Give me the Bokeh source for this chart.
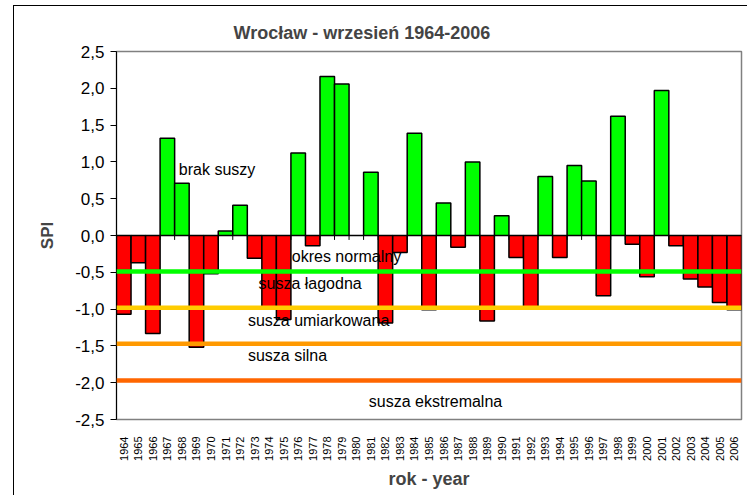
import math
from bokeh.plotting import figure
from bokeh.models import Range1d, FixedTicker, CustomJSTickFormatter, Span, Label, ColumnDataSource
from bokeh.embed import file_html
from bokeh.resources import INLINE

years = list(range(1964, 2007))
spi = [-1.07, -0.37, -1.33, 1.32, 0.71, -1.52, -0.52, 0.06, 0.41, -0.31,
       -0.97, -1.14, 1.12, -0.14, 2.16, 2.06, 0.00, 0.86, -1.19, -0.23,
       1.39, -1.01, 0.44, -0.16, 1.00, -1.16, 0.27, -0.30, -0.97, 0.80,
       -0.30, 0.95, 0.74, -0.82, 1.62, -0.12, -0.56, 1.97, -0.14, -0.59,
       -0.70, -0.91, -1.01]
thresholds = [-0.49, -0.98, -1.47, -1.97]
threshold_colors = ["#00FF00", "#FFCC00", "#FF9900", "#FF6600"]
class_labels = ["brak suszy", "okres normalny", "susza łagodna",
                "susza umiarkowana", "susza silna", "susza ekstremalna"]
y_ticks = [-2.5, -2.0, -1.5, -1.0, -0.5, 0.0, 0.5, 1.0, 1.5, 2.0, 2.5]

FONT = "Liberation Sans"

colors = ["#00FF00" if v > 0 else "#FF0000" for v in spi]
src = ColumnDataSource(dict(x=years, top=spi, color=colors))

p = figure(frame_width=625, frame_height=368, min_border_left=102, min_border_right=7,
           min_border_top=45, min_border_bottom=77,
           x_range=Range1d(years[0] - 0.5, years[-1] + 0.5), y_range=Range1d(-2.5, 2.5),
           output_backend="svg", toolbar_location=None,
           title="Wrocław - wrzesień 1964-2006")
p.margin = (6, 0, 0, 14)
p.styles = {"box-shadow": "-1px -1px 0 0 #000000"}

p.title.text_font = FONT
p.title.text_font_size = "18px"
p.title.text_font_style = "bold"
p.title.align = "left"
p.title.offset = 117
p.title.standoff = 17

p.xgrid.visible = False
p.ygrid.visible = False
p.outline_line_color = "#808080"
p.outline_line_width = 1.5
p.background_fill_color = "white"
p.border_fill_color = "white"

p.vbar(x="x", top="top", bottom=0, width=1.0, fill_color="color", line_color="black",
       line_width=1.5, source=src)

p.add_layout(Span(location=0, dimension="width", line_color="black", line_width=1.2))
bx = [y + 0.5 for y in years[:-1]]
p.segment(x0=bx, y0=[0] * len(bx), x1=bx, y1=[-0.06] * len(bx), line_color="black", line_width=1)

for t, c in zip(thresholds, threshold_colors):
    p.add_layout(Span(location=t, dimension="width", line_color=c, line_width=4.5))

label_pos = [(1967.79, 0.89), (1975.56, -0.28), (1973.27, -0.65),
             (1972.54, -1.16), (1972.54, -1.63), (1980.86, -2.25)]
for txt, (lx, ly) in zip(class_labels, label_pos):
    p.add_layout(Label(x=lx, y=ly, text=txt, text_font=FONT, text_font_size="16px",
                       text_color="black", text_baseline="middle", text_align="left"))

# axes
xa = p.xaxis[0]
xa.ticker = FixedTicker(ticks=years)
xa.major_label_orientation = math.pi / 2
xa.major_label_text_font = FONT
xa.major_label_text_font_size = "11px"
xa.major_label_text_color = "black"
xa.major_tick_line_color = None
xa.minor_tick_line_color = None
xa.axis_line_color = "#808080"
xa.major_label_standoff = 11
xa.axis_label = "rok - year"
xa.axis_label_text_font = FONT
xa.axis_label_text_font_size = "18px"
xa.axis_label_text_font_style = "bold"
xa.axis_label_standoff = 5

ya = p.yaxis[0]
ya.ticker = FixedTicker(ticks=y_ticks)
ya.formatter = CustomJSTickFormatter(code="return tick.toFixed(1).replace('.', ',');")
ya.major_label_text_font = FONT
ya.major_label_text_font_size = "17px"
ya.major_label_text_color = "black"
ya.major_tick_out = 6
ya.major_tick_in = 0
ya.minor_tick_line_color = None
ya.axis_line_color = "black"
ya.major_tick_line_color = "black"
ya.major_label_standoff = 6
ya.axis_label = "SPI"
ya.axis_label_text_font = FONT
ya.axis_label_text_font_size = "17px"
ya.axis_label_text_font_style = "bold"
ya.axis_label_standoff = 15

open("out.html", "w").write(file_html(p, INLINE))
